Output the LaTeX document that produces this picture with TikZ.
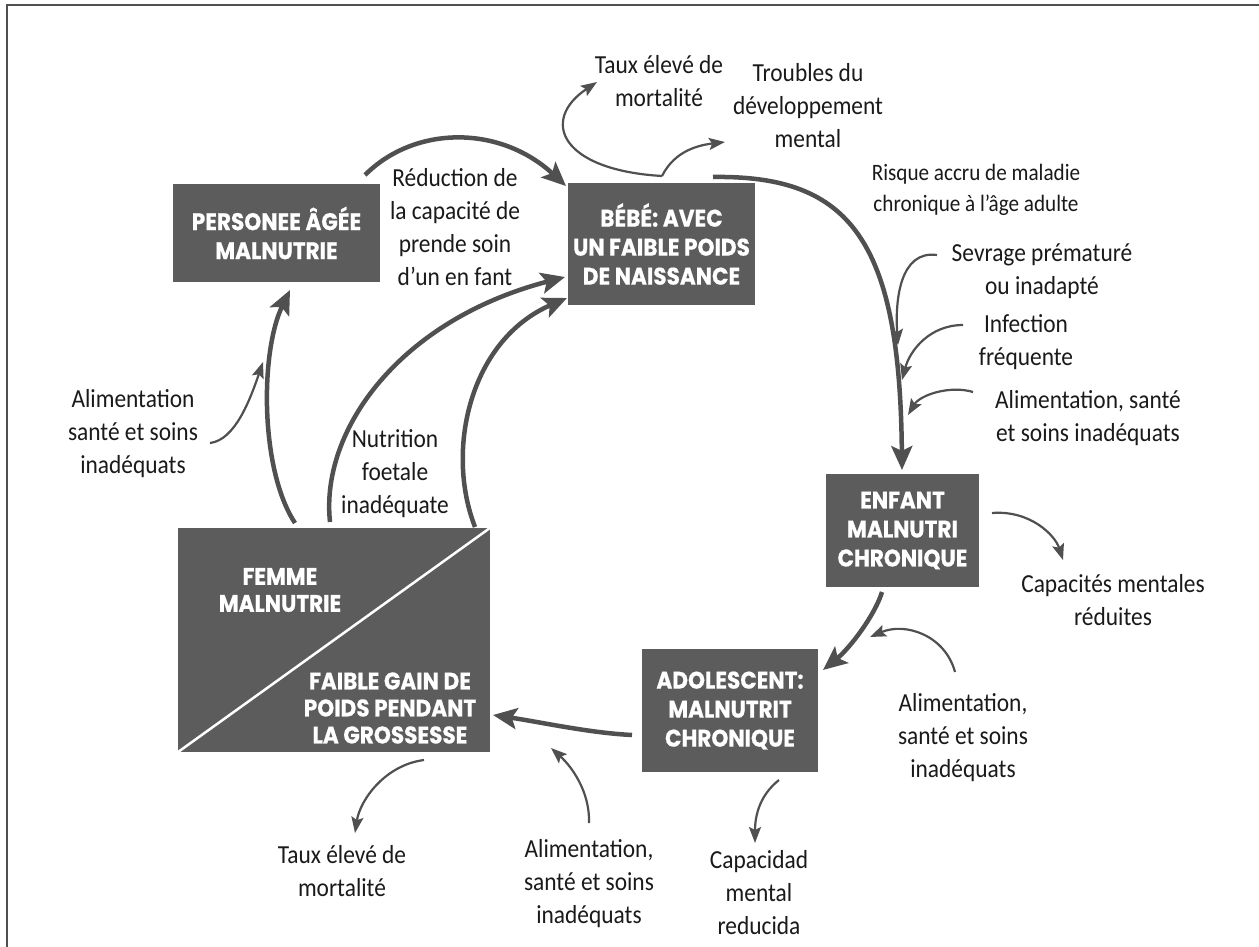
\documentclass[tikz,border=0pt]{standalone}
\usepackage{fontspec}
\setmainfont{Carlito}[FakeStretch=0.9]
\newfontfamily\boxfont{Poppins}[FakeStretch=0.9,BoldFeatures={FakeBold=0.6}]
\usetikzlibrary{arrows.meta}
\definecolor{boxgray}{HTML}{5C5C5C}
\definecolor{linegray}{HTML}{505050}
\definecolor{txt}{HTML}{1A1A1A}
\begin{document}
\begin{tikzpicture}[x=1pt,y=-1pt,
  box/.style={fill=boxgray,text=white,font=\boxfont\bfseries\fontsize{24}{29}\selectfont,align=center,inner sep=0pt},
  boxtext/.style={text=white,font=\boxfont\bfseries\fontsize{24}{27}\selectfont,align=center,inner sep=0pt},
  lbl/.style={text=txt,font=\fontsize{26}{33}\selectfont,align=center,inner sep=0pt},
  smalllbl/.style={text=txt,font=\fontsize{23.5}{31}\selectfont,align=center,inner sep=0pt},
  bigarrow/.style={draw=linegray,line width=4.5pt,-{Stealth[length=24pt,width=21pt,inset=5pt]}},
  thinarrow/.style={draw=linegray,line width=2.2pt,-{Stealth[length=16pt,width=12pt,inset=3pt]}}
]
\useasboundingbox (0,0) rectangle (1259,947);
\fill[white] (0,0) rectangle (1259,947);
% frame
\draw[linegray,line width=2.5pt] (7,947) -- (7,5) -- (1259,5);

% boxes
\node[box,minimum width=207pt,minimum height=98pt] (per) at (276.5,233) {PERSONEE ÂGÉE\\MALNUTRIE};
\node[box,minimum width=187pt,minimum height=122pt] (bebe) at (661.5,244) {BÉBÉ: AVEC\\UN FAIBLE POIDS\\DE NAISSANCE};
\node[box,minimum width=153pt,minimum height=113pt] (enf) at (902.5,530.5) {ENFANT\\MALNUTRI\\CHRONIQUE};
\node[box,minimum width=176pt,minimum height=123pt] (ado) at (730,710.5) {ADOLESCENT:\\MALNUTRIT\\CHRONIQUE};
\node[fill=boxgray,minimum width=312pt,minimum height=224pt,inner sep=0pt] (fem) at (334,640) {};
\draw[white,line width=2.5pt] (fem.south west) -- (fem.north east);
\node[boxtext] (femA) at (280,590) {FEMME\\MALNUTRIE};
\node[boxtext] (femB) at (390,708) {FAIBLE GAIN DE\\POIDS PENDANT\\LA GROSSESSE};

% labels
\node[lbl] (reduc) at (455,227) {Réduction de\\la capacité de\\prende soin\\d’un en fant};
\node[lbl] (tauxT) at (659,81) {Taux élevé de\\mortalité};
\node[lbl] (troub) at (808,106) {Troubles du\\développement\\mental};
\node[smalllbl] (risq) at (976,190) {Risque accru de maladie\\chronique à l’âge adulte};
\node[lbl] (sevr) at (1042,271) {Sevrage prématuré\\ou inadapté};
\node[lbl] (infec) at (1026,342) {Infection\\fréquente};
\node[lbl] (alimR) at (1088,418) {Alimentation, santé\\et soins inadéquats};
\node[lbl] (capR) at (1113,600) {Capacités mentales\\réduites};
\node[lbl] (alimR2) at (963,738) {Alimentation,\\santé et soins\\inadéquats};
\node[lbl] (capB) at (759,893) {Capacidad\\mental\\reducida};
\node[lbl] (alimB) at (589,884) {Alimentation,\\santé et soins\\inadéquats};
\node[lbl] (tauxB) at (342,871) {Taux élevé de\\mortalité};
\node[lbl] (nutr) at (395,474) {Nutrition\\foetale\\inadéquate};
\node[lbl] (alimL) at (133,434) {Alimentation\\santé et soins\\inadéquats};

% connector end points
\coordinate (perOut) at (365,175);
\coordinate (bebeIn1) at (566,186);
\coordinate (femOut1) at (295,523);
\coordinate (perIn) at (290,290);
\coordinate (femOut2) at (330,522);
\coordinate (bebeIn2) at (565,277);
\coordinate (femOut3) at (475,527);
\coordinate (bebeIn3) at (567,298);
\coordinate (bebeOut) at (713,177);
\coordinate (enfIn) at (902,470);
\coordinate (enfOut) at (882,592);
\coordinate (adoIn) at (823,670);
\coordinate (adoOut) at (632,735);
\coordinate (femIn) at (493,715);
\coordinate (fork) at (662,176);
\coordinate (tauxTIn) at (597,82);
\coordinate (troubIn) at (725,142);
\coordinate (sevrOut) at (937,255);
\coordinate (sevrIn) at (898,345);
\coordinate (infOut) at (963,325);
\coordinate (infIn) at (902,380);
\coordinate (alimROut) at (973,392);
\coordinate (alimRIn) at (908,415);
\coordinate (enfSide) at (992,513);
\coordinate (capRIn) at (1063,560);
\coordinate (alimR2Out) at (955,672);
\coordinate (alimR2In) at (870,637);
\coordinate (femSide) at (424,760);
\coordinate (tauxBIn) at (355,833);
\coordinate (alimBOut) at (589,823);
\coordinate (alimBIn) at (551,748);
\coordinate (adoSide) at (779,780);
\coordinate (capBIn) at (755,843);
\coordinate (alimLOut) at (210,443);
\coordinate (alimLIn) at (263,362);

% main cycle
\draw[bigarrow] (perOut) .. controls (415,125) and (500,125) .. (bebeIn1);
\draw[bigarrow] (femOut1) .. controls (260,470) and (260,352) .. (perIn);
\draw[bigarrow] (femOut2) .. controls (320,430) and (400,320) .. (bebeIn2);
\draw[bigarrow] (femOut3) .. controls (445,450) and (470,340) .. (bebeIn3);
\draw[bigarrow] (bebeOut) .. controls (850,175) and (900,240) .. (enfIn);
\draw[bigarrow] (enfOut) .. controls (875,615) and (850,648) .. (adoIn);
\draw[bigarrow] (adoOut) .. controls (590,733) and (540,722) .. (femIn);

% side arrows
\draw[thinarrow] (fork) .. controls (560,170) and (540,120) .. (tauxTIn);
\draw[thinarrow] (fork) .. controls (675,150) and (700,145) .. (troubIn);
\draw[thinarrow] (sevrOut) .. controls (900,250) and (895,300) .. (sevrIn);
\draw[thinarrow] (infOut) .. controls (930,325) and (910,350) .. (infIn);
\draw[thinarrow] (alimROut) .. controls (950,385) and (920,395) .. (alimRIn);
\draw[thinarrow] (enfSide) .. controls (1030,510) and (1055,535) .. (capRIn);
\draw[thinarrow] (alimR2Out) .. controls (945,635) and (905,622) .. (alimR2In);
\draw[thinarrow] (femSide) .. controls (385,765) and (360,800) .. (tauxBIn);
\draw[thinarrow] (alimBOut) .. controls (590,790) and (570,765) .. (alimBIn);
\draw[thinarrow] (adoSide) .. controls (760,795) and (755,815) .. (capBIn);
\draw[thinarrow] (alimLOut) .. controls (235,440) and (250,400) .. (alimLIn);
\end{tikzpicture}
\end{document}
